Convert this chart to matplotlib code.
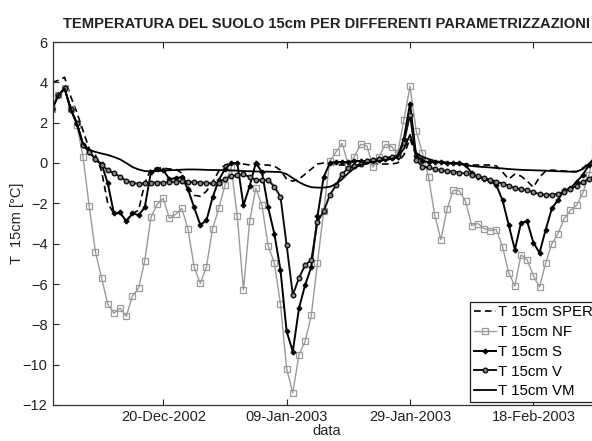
import numpy as np
import pandas as pd
import matplotlib
matplotlib.use("Agg")
import matplotlib.pyplot as plt
import matplotlib.dates as mdates

plt.rcParams['font.family'] = ['Liberation Sans', 'DejaVu Sans']

start_date = "2002-12-02"

sper = [4.0, 4.1, 4.25, 3.3, 2.5, 1.6, 0.7, 0.4, -0.4, -2.0,
        -2.5, -2.5, -2.85, -2.5, -2.35, -1.0, -0.3, -0.25, -0.25, -0.3,
        -0.3, -0.5, -1.2, -1.6, -1.65, -1.4, -0.95, -0.4, -0.1, 0.0,
        0.0, -0.05, -0.1, -0.05, -0.1, -0.1, -0.15, -0.35, -0.8, -0.9,
        -0.8, -0.55, -0.3, -0.05, 0.0, -0.05, -0.1, -0.1, -0.1, -0.1,
        -0.05, -0.05, -0.05, -0.05, -0.05, -0.05, 0.0, 0.4, 1.2, 0.35,
        0.2, 0.15, 0.1, 0.05, 0.0, 0.0, -0.05, -0.05, -0.1, -0.1,
        -0.1, -0.1, -0.15, -0.45, -0.8, -0.55, -0.65, -0.9, -1.2, -0.7,
        -0.4, -0.35, -0.38, -0.4, -0.42, -0.43, -0.25, 0.0, 0.2]

nf = [2.7, 3.37, 3.7, 2.66, 1.9, 0.28, -2.15, -4.4, -5.7, -7.0,
      -7.45, -7.2, -7.6, -6.6, -6.2, -4.85, -2.7, -2.05, -1.75, -2.75,
      -2.55, -2.25, -3.25, -5.15, -5.97, -5.15, -3.25, -2.25, -1.1, -0.2,
      -2.65, -6.3, -2.9, -1.25, -2.1, -4.1, -4.95, -7.0, -10.2, -11.4,
      -9.5, -8.85, -7.55, -4.95, -2.4, 0.1, 0.55, 0.97, -0.1, 0.31,
      0.93, 0.86, -0.21, 0.31, 0.93, 0.81, 0.48, 2.13, 3.8, 1.6,
      0.5, -0.68, -2.58, -3.8, -2.3, -1.35, -1.38, -1.9, -3.1, -3.0,
      -3.25, -3.35, -3.3, -4.15, -5.45, -6.1, -4.55, -4.8, -5.6, -6.15,
      -4.95, -4.0, -3.5, -2.75, -2.35, -2.1, -1.5, -0.6, 0.8]

s = [2.7, 3.35, 3.7, 2.65, 1.95, 0.9, 0.55, 0.2, -0.05, -1.0,
     -2.5, -2.45, -2.9, -2.5, -2.58, -2.2, -0.45, -0.3, -0.35, -0.8,
     -0.75, -0.7, -1.3, -2.2, -3.07, -2.85, -1.7, -0.85, -0.3, 0.0,
     0.0, -2.1, -1.15, 0.0, -0.45, -2.2, -3.5, -5.3, -8.35, -9.35,
     -7.2, -6.05, -5.15, -2.65, -0.7, 0.0, 0.05, 0.05, 0.05, 0.1,
     0.1, 0.1, 0.15, 0.15, 0.2, 0.25, 0.3, 1.2, 2.95, 0.35,
     0.1, 0.05, 0.05, 0.05, 0.0, 0.0, 0.0, -0.1, -0.5, -0.7,
     -0.8, -0.9, -1.1, -1.85, -3.07, -4.3, -2.96, -2.9, -3.95, -4.45,
     -3.3, -2.25, -1.83, -1.35, -1.26, -0.93, -0.6, -0.1, 0.3]

v = [2.7, 3.37, 3.7, 2.66, 1.97, 0.89, 0.56, 0.18, -0.1, -0.35,
     -0.51, -0.68, -0.89, -0.97, -1.04, -1.0, -0.97, -0.97, -0.97, -0.95,
     -0.92, -0.9, -0.92, -0.95, -0.97, -1.0, -1.0, -0.97, -0.8, -0.65,
     -0.6, -0.55, -0.7, -0.84, -0.84, -0.84, -1.17, -1.67, -4.07, -6.54,
     -5.7, -5.06, -4.81, -2.91, -2.4, -1.59, -1.1, -0.55, -0.25, -0.15,
     -0.05, 0.1, 0.15, 0.2, 0.25, 0.3, 0.35, 1.0, 2.4, 0.15,
     -0.18, -0.22, -0.3, -0.35, -0.4, -0.43, -0.48, -0.52, -0.58, -0.65,
     -0.75, -0.82, -0.93, -1.02, -1.12, -1.25, -1.3, -1.36, -1.45, -1.54,
     -1.58, -1.57, -1.52, -1.42, -1.3, -1.12, -0.95, -0.8, -0.6]

vm = [2.7, 3.35, 3.7, 2.7, 1.95, 0.95, 0.65, 0.55, 0.47, 0.4,
      0.3, 0.18, 0.0, -0.2, -0.32, -0.4, -0.42, -0.4, -0.38, -0.36,
      -0.35, -0.33, -0.32, -0.32, -0.33, -0.34, -0.35, -0.35, -0.36, -0.37,
      -0.38, -0.4, -0.41, -0.42, -0.43, -0.43, -0.44, -0.45, -0.55, -0.75,
      -0.95, -1.1, -1.2, -1.22, -1.22, -1.18, -1.05, -0.8, -0.5, -0.25,
      -0.1, 0.0, 0.05, 0.1, 0.15, 0.2, 0.3, 0.7, 1.4, 0.5,
      0.3, 0.2, 0.1, 0.05, 0.0, -0.02, -0.05, -0.1, -0.15, -0.18,
      -0.2, -0.22, -0.25, -0.27, -0.3, -0.32, -0.34, -0.35, -0.36, -0.37,
      -0.38, -0.4, -0.41, -0.42, -0.43, -0.43, -0.3, -0.05, 0.2]

labels = ["T 15cm SPER", "T 15cm NF", "T 15cm S", "T 15cm V", "T 15cm VM"]
tick_dates = ["2002-12-20", "2003-01-09", "2003-01-29", "2003-02-18"]
yticks = [-12, -10, -8, -6, -4, -2, 0, 2, 4, 6]

dates = pd.date_range(start_date, periods=len(s), freq="D")

W, H = 592, 441
fig = plt.figure(figsize=(W / 100, H / 100), dpi=100)
ax_l, ax_r, ax_t, ax_b = 53, 600, 42, 405
ax = fig.add_axes([ax_l / W, 1 - ax_b / H, (ax_r - ax_l) / W, (ax_b - ax_t) / H])

ax.plot(dates, sper, color='black', lw=1.2, ls=(0, (4, 2.5)), label=labels[0])
ax.plot(dates, nf, color='#9a9a9a', lw=1.0, marker='s', ms=3.8, mfc='none',
        mec='#9a9a9a', mew=0.9, label=labels[1])
ax.plot(dates, s, color='black', lw=1.4, marker='P', ms=3.5, mfc='black',
        mec='black', mew=0.5, label=labels[2])
ax.plot(dates, v, color='#111111', lw=1.4, marker='o', ms=3.3, mfc='#888888',
        mec='#111111', mew=1.0, label=labels[3])
ax.plot(dates, vm, color='black', lw=1.3, label=labels[4])

x0 = pd.Timestamp(start_date) + pd.Timedelta(hours=3)
x1 = pd.Timestamp(start_date) + pd.Timedelta(days=88.8)
ax.set_xlim(x0, x1)
ax.set_ylim(-12, 6)
ax.set_yticks(yticks)
ax.set_xticks(pd.to_datetime(tick_dates))
ax.xaxis.set_major_formatter(mdates.DateFormatter('%d-%b-%Y'))

ax.tick_params(direction='in', length=4, width=0.8, top=True, right=True,
               labelsize=10.5, colors='#222222')
ax.tick_params(axis='x', pad=3.5)
ax.tick_params(axis='y', pad=4)
for sp in ax.spines.values():
    sp.set_linewidth(0.9)
    sp.set_color('#333333')

ax.set_title("TEMPERATURA DEL SUOLO 15cm PER DIFFERENTI PARAMETRIZZAZIONI",
             fontsize=10.6, fontweight='bold', pad=10, color='#222222')
ax.set_xlabel("data", fontsize=10.5, labelpad=0, color='#222222')
ax.set_ylabel("T  15cm [°C]", fontsize=10.5, labelpad=-1, color='#222222')

leg = ax.legend(loc='lower right', bbox_to_anchor=(1 - 3 / (ax_r - ax_l), 3 / (ax_b - ax_t)),
                fontsize=10.8, frameon=True, fancybox=False, framealpha=1,
                edgecolor='#222222', borderpad=0.25, labelspacing=0.38,
                handlelength=1.5, handletextpad=0.15, borderaxespad=0.0)
leg.get_frame().set_linewidth(0.9)

fig.savefig("out.png", dpi=100)
